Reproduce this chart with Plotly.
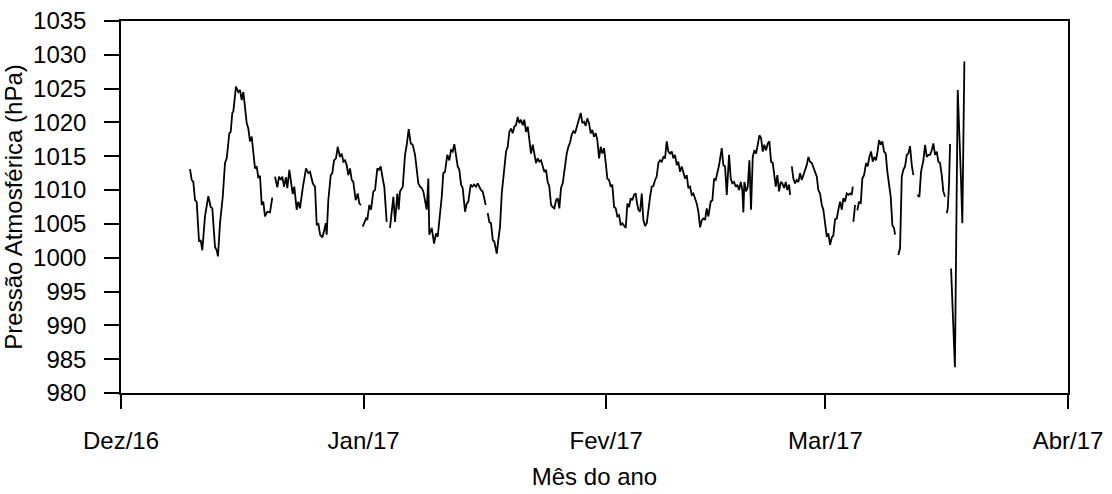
import pandas as pd
import plotly.graph_objects as go

# Série de pressão atmosférica (dias decorridos desde 01/12/2016, hPa).
# None marca as falhas de registro, que interrompem a linha.
inicio = pd.Timestamp("2016-12-01")

dias = [
    8.82, 9.03, 9.24, 9.46, 9.67, 9.97, 10.18, 10.39, 10.73, 11.16, 11.46, 11.67,
    12.01, 12.23, 12.39, 12.65, 13.00, 13.29, 13.51, 13.84, 14.02, 14.22, 14.35,
    14.69, 14.99, 15.21, 15.42, 15.63, 15.84, 16.06, 16.27, 16.48, 16.70, 16.91,
    17.12, 17.34, 17.54, 17.76, 17.98, 18.18, 18.40, 18.69, 19.04, 19.33,
    19.50,
    19.68, 19.97, 20.19, 20.41, 20.61, 20.83, 21.08, 21.25, 21.51, 21.72, 21.94,
    22.14, 22.45, 22.66, 22.87, 23.22, 23.64, 23.93, 24.15, 24.50, 24.79, 25.01,
    25.21, 25.43, 25.72, 25.94, 26.16, 26.28, 26.49, 26.80, 27.00, 27.22, 27.47,
    27.69, 27.98, 28.20, 28.41, 28.62, 28.84, 29.04, 29.26, 29.48, 29.68, 29.99,
    30.25, 30.45, 30.67,
    30.78,
    30.88, 31.09, 31.31, 31.47, 31.73, 31.95, 32.24, 32.46, 32.75, 32.97, 33.18,
    33.44, 33.64, 33.95,
    34.15,
    34.37, 34.80, 35.01, 35.31, 35.48, 35.65, 36.00, 36.29, 36.51, 36.76, 37.02,
    37.27, 37.57, 37.78, 37.99, 38.21, 38.42, 38.63, 38.85, 39.06, 39.27, 39.39,
    39.70, 40.00, 40.25, 40.47, 40.76, 40.98, 41.18, 41.40, 41.69, 41.95, 42.17,
    42.38, 42.59, 42.81, 43.02, 43.23, 43.45, 43.66, 43.96, 44.17, 44.38, 44.68,
    44.89, 45.11, 45.36, 45.58, 45.78, 46.00, 46.22, 46.42, 46.60,
    46.73,
    46.86, 47.06, 47.28, 47.50, 47.70, 48.01, 48.21, 48.43, 48.65, 48.94, 49.20,
    49.41, 49.62, 49.83, 50.05, 50.26, 50.47, 50.69, 50.90, 51.11, 51.33, 51.53,
    51.75, 51.97, 52.17, 52.39, 52.61, 52.81, 53.03, 53.25, 53.45, 53.67, 53.89,
    54.09, 54.31, 54.52, 54.73, 54.95, 55.16, 55.37, 55.59, 55.80, 56.01, 56.22,
    56.44, 56.74, 56.95, 57.16, 57.37, 57.59, 57.80, 58.01, 58.23, 58.43, 58.74,
    58.95, 59.16, 59.38, 59.58, 59.80, 60.02, 60.22, 60.44, 60.66, 60.86, 61.08,
    61.30, 61.50, 61.72, 61.94, 62.14, 62.36, 62.58, 62.78, 63.00, 63.21, 63.42,
    63.64, 63.85, 64.06, 64.28, 64.49, 64.70, 64.91, 65.13, 65.34, 65.55, 65.77,
    65.90, 66.10, 66.32, 66.54, 66.74, 66.96, 67.18, 67.38, 67.60, 67.81, 68.02,
    68.24, 68.45, 68.66, 68.88, 69.09, 69.30, 69.51, 69.73, 69.94, 70.15, 70.37,
    70.58, 70.79, 71.01, 71.21, 71.43, 71.65, 71.85, 72.07, 72.29, 72.49, 72.71,
    72.93, 73.13, 73.35, 73.57, 73.77, 73.99, 74.20, 74.41, 74.63, 74.84, 75.05,
    75.35, 75.56, 75.78, 75.99, 76.20, 76.42, 76.76, 76.96, 77.18, 77.40, 77.69,
    77.91, 78.11, 78.33, 78.55, 78.75, 78.97, 79.19, 79.39, 79.52, 79.65, 79.87,
    80.08, 80.29, 80.50, 80.72, 80.93, 81.14, 81.36, 81.57, 81.78, 82.00, 82.20,
    82.42, 82.64, 82.84, 83.06, 83.28, 83.44, 83.66, 83.86, 84.08, 84.30, 84.50,
    84.72, 84.94, 85.14, 85.36, 85.49,
    85.60,
    85.71, 85.91, 86.13, 86.34, 86.55, 86.77, 86.98, 87.19, 87.41, 87.62, 87.83,
    88.04, 88.26, 88.47, 88.68, 88.90, 89.10, 89.32, 89.54, 89.74, 89.96, 90.18,
    90.38, 90.60, 90.82, 91.02, 91.24, 91.46, 91.66, 91.88, 92.10, 92.30, 92.52,
    92.73, 92.94, 93.16, 93.37, 93.50,
    93.54,
    93.58, 93.79,
    93.93,
    94.08, 94.30, 94.52, 94.72, 94.94, 95.20, 95.41, 95.62, 95.84, 96.05, 96.26,
    96.47, 96.69, 96.86, 97.07, 97.28, 97.50, 97.71, 97.92, 98.14, 98.35, 98.56,
    98.77, 98.90,
    99.10,
    99.32, 99.54, 99.76, 99.96, 100.18, 100.40, 100.60, 100.82, 101.04, 101.24,
    101.50,
    101.75, 102.01, 102.22, 102.52, 102.74, 102.95, 103.16, 103.37, 103.59,
    103.80, 104.01, 104.23, 104.44, 104.65, 104.87, 105.07, 105.29,
    105.40,
    105.51, 105.64, 105.80, 105.93,
    106.00,
    106.06, 106.27, 106.55, 106.91, 107.21, 107.33, 107.50, 107.76,
]

pressao = [
    1013.1, 1011.5, 1011.2, 1008.5, 1008.3, 1002.4, 1002.6, 1001.1, 1006.1, 1009.1, 1007.5, 1007.3,
    1001.6, 1001.1, 1000.2, 1005.1, 1009.0, 1014.0, 1014.7, 1018.4, 1018.6, 1021.4, 1021.6,
    1025.3, 1024.5, 1024.8, 1023.3, 1024.5, 1022.3, 1019.9, 1019.1, 1017.2, 1017.9, 1015.7,
    1013.2, 1013.5, 1011.9, 1012.1, 1007.8, 1008.3, 1006.1, 1006.8, 1006.7, 1008.9,
    None,
    1012.0, 1010.4, 1012.0, 1011.5, 1012.0, 1010.5, 1011.9, 1010.3, 1013.0, 1011.0, 1009.4,
    1010.5, 1007.1, 1008.3, 1007.3, 1010.3, 1013.2, 1012.5, 1012.7, 1011.0, 1010.5, 1004.8,
    1005.1, 1003.4, 1003.0, 1003.9, 1005.1, 1003.4, 1008.5, 1012.2, 1012.5, 1014.4, 1014.7,
    1016.4, 1014.9, 1015.4, 1014.2, 1014.4, 1013.7, 1012.2, 1013.2, 1011.5, 1011.2, 1008.5,
    1009.5, 1008.0, 1007.8,
    None,
    1004.6, 1005.1, 1005.8, 1005.6, 1007.8, 1007.1, 1009.8, 1010.0, 1013.2, 1013.0, 1013.5,
    1011.7, 1010.5, 1005.3,
    None,
    1004.4, 1009.0, 1005.3, 1009.5, 1007.1, 1009.8, 1010.5, 1015.2, 1016.7, 1019.0, 1016.9,
    1016.7, 1015.2, 1013.2, 1011.0, 1010.5, 1010.3, 1009.8, 1008.5, 1007.1, 1011.7, 1003.4,
    1004.4, 1002.1, 1003.6, 1003.1, 1006.5, 1009.0, 1012.5, 1012.7, 1015.2, 1014.4, 1015.9,
    1015.7, 1016.8, 1015.4, 1013.5, 1013.0, 1010.8, 1010.3, 1006.8, 1008.0, 1008.3, 1010.8,
    1010.5, 1010.8, 1010.5, 1011.0, 1010.5, 1010.0, 1009.8, 1008.5, 1007.8,
    None,
    1006.6, 1005.3, 1005.1, 1002.6, 1002.4, 1000.6, 1002.6, 1004.6, 1009.5, 1012.5, 1015.7,
    1016.4, 1018.6, 1019.1, 1018.4, 1019.4, 1019.6, 1020.8, 1019.9, 1020.4, 1019.6, 1020.4,
    1018.6, 1019.4, 1017.4, 1015.4, 1016.7, 1015.2, 1014.0, 1014.7, 1014.2, 1014.4, 1013.5,
    1012.7, 1013.0, 1011.2, 1010.5, 1007.8, 1007.5, 1007.3, 1008.5, 1008.8, 1007.3, 1010.3,
    1011.0, 1014.0, 1015.4, 1016.4, 1017.0, 1018.2, 1018.7, 1018.4, 1019.4, 1020.1, 1021.4,
    1019.9, 1020.1, 1019.5, 1020.6, 1019.9, 1018.4, 1018.9, 1017.9, 1018.4, 1017.4, 1014.7,
    1016.4, 1015.4, 1016.2, 1014.0, 1011.7, 1011.5, 1010.5, 1010.8, 1007.5, 1007.3, 1006.1,
    1006.3, 1004.8, 1005.1, 1004.7, 1004.4, 1008.0, 1007.5, 1008.8, 1008.5, 1009.3, 1009.5,
    1008.3, 1007.1, 1006.8, 1009.5, 1005.6, 1004.7, 1005.1, 1007.5, 1009.0, 1010.5, 1010.6,
    1011.5, 1012.0, 1014.0, 1014.4, 1014.2, 1014.9, 1014.7, 1017.2, 1015.7, 1015.4, 1015.7,
    1014.7, 1015.2, 1013.7, 1014.2, 1012.7, 1013.5, 1012.5, 1011.7, 1012.2, 1010.3, 1010.5,
    1009.3, 1009.5, 1008.8, 1008.0, 1006.8, 1004.5, 1005.5, 1005.8, 1005.6, 1007.3, 1006.1,
    1008.3, 1008.5, 1011.7, 1011.5, 1012.5, 1013.7, 1016.2, 1013.7, 1013.5, 1009.3, 1015.2,
    1011.7, 1011.0, 1011.2, 1010.5, 1010.8, 1010.0, 1011.2, 1010.0, 1006.7, 1011.2, 1009.8,
    1010.5, 1014.4, 1007.1, 1014.9, 1015.9, 1015.4, 1016.7, 1018.1, 1017.7, 1015.7, 1016.7,
    1015.9, 1016.9, 1017.2, 1014.2, 1014.0, 1012.5, 1010.5, 1012.2, 1009.8, 1011.2, 1011.0,
    1010.3, 1011.2, 1010.0, 1010.8, 1009.3,
    None,
    1013.5, 1011.7, 1011.0, 1011.5, 1011.2, 1012.5, 1011.5, 1012.2, 1012.7, 1013.7, 1014.9,
    1014.2, 1014.0, 1013.2, 1012.7, 1012.0, 1010.0, 1009.5, 1007.8, 1007.1, 1004.6, 1003.1,
    1003.6, 1001.9, 1003.0, 1003.3, 1005.7, 1005.8, 1007.1, 1008.3, 1007.1, 1008.8, 1008.3,
    1009.5, 1009.3, 1009.5, 1009.3, 1010.5,
    None,
    1005.3, 1007.8,
    None,
    1007.0, 1008.3, 1008.0, 1011.7, 1012.2, 1014.0, 1013.5, 1014.9, 1015.7, 1014.2, 1014.9,
    1014.4, 1015.9, 1017.4, 1016.7, 1017.2, 1015.7, 1015.4, 1012.7, 1010.8, 1009.0, 1004.8,
    1004.4, 1003.4,
    None,
    1000.4, 1001.4, 1012.0, 1013.0, 1013.5, 1015.2, 1015.4, 1016.5, 1013.7, 1012.2,
    None,
    1009.3, 1009.0, 1012.7, 1014.4, 1016.7, 1014.9, 1015.2, 1015.2, 1015.9,
    1016.9, 1015.2, 1015.7, 1014.2, 1014.0, 1012.2, 1009.8, 1009.0,
    None,
    1006.6, 1007.3, 1011.0, 1016.8,
    None,
    998.4, 990.8, 983.8, 1024.8, 1012.5, 1011.5, 1005.1, 1029.0,
]

meses = ["2016-12-01", "2017-01-01", "2017-02-01", "2017-03-01", "2017-04-01"]
rotulos_meses = ["Dez/16", "Jan/17", "Fev/17", "Mar/17", "Abr/17"]

tempo = inicio + pd.to_timedelta(dias, unit="D")

fig = go.Figure(
    go.Scatter(
        x=tempo,
        y=pressao,
        mode="lines",
        line=dict(color="black", width=1.8),
        connectgaps=False,
        showlegend=False,
    )
)

fonte = dict(family="Liberation Sans, Arial, sans-serif", size=24, color="black")

eixo = dict(
    showline=True,
    linecolor="black",
    linewidth=1.5,
    mirror=True,
    ticks="outside",
    tickcolor="black",
    tickwidth=1.5,
    tickfont=fonte,
    showgrid=False,
    zeroline=False,
    automargin=False,
)

fig.update_layout(
    width=1112,
    height=494,
    margin=dict(l=121, r=44, t=21, b=101),
    paper_bgcolor="white",
    plot_bgcolor="white",
    font=fonte,
    xaxis=dict(
        eixo,
        range=[meses[0], meses[-1]],
        tickmode="array",
        tickvals=meses,
        ticktext=rotulos_meses,
        ticklen=14,
        ticklabelstandoff=11,
        title=dict(text="Mês do ano", font=fonte, standoff=16),
    ),
    yaxis=dict(
        eixo,
        range=[980, 1035],
        tick0=980,
        dtick=5,
        ticklen=15,
        ticklabelstandoff=13,
        title=dict(text="Pressão Atmosférica (hPa)", font=fonte, standoff=8),
    ),
)

fig.write_html("out.html")
